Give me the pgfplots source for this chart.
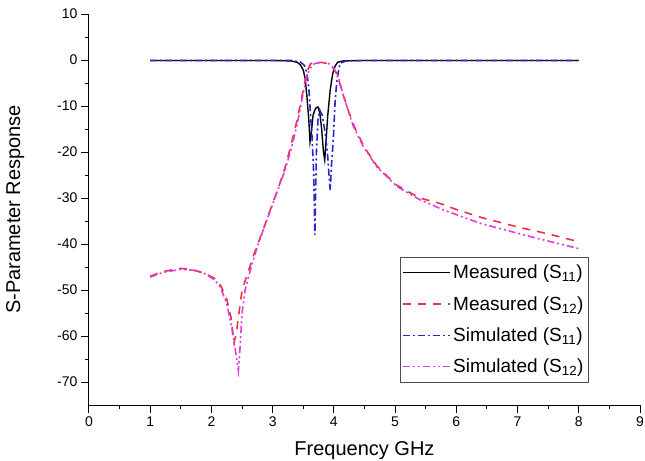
\documentclass[border=0pt]{standalone}
\usepackage{fontspec}
\setmainfont{Liberation Sans}
\usepackage{pgfplots}
\pgfplotsset{compat=1.18}

\definecolor{measred}{RGB}{236,50,64}
\definecolor{simblue}{RGB}{40,40,200}
\definecolor{simmag}{RGB}{222,60,222}

\begin{document}
\begin{tikzpicture}
\begin{axis}[
  at={(0,0)}, anchor=south west,
  scale only axis,
  width=551bp, height=391bp,
  xmin=0, xmax=9, ymin=-75, ymax=10,
  axis x line=bottom, axis y line=left,
  axis line style={-, line width=1bp},
  xtick={0,...,9}, ytick={-70,-60,...,10},
  minor x tick num=1, minor y tick num=1,
  tick align=outside,
  major tick length=8bp, minor tick length=4bp,
  every tick/.style={black, line width=1bp},
  tick label style={font=\fontsize{14bp}{16bp}\selectfont},
  /pgf/number format/assume math mode=true,
  xlabel={Frequency GHz},
  ylabel={S-Parameter Response},
  label style={font=\fontsize{20bp}{24bp}\selectfont},
  xlabel style={at={(axis description cs:0.5,-0.128)}, anchor=base},
  ylabel style={at={(axis description cs:-0.134,0.5)}, anchor=center},
  legend style={at={(0.907,0.058)}, anchor=south east, draw=black!70,
    font=\fontsize{19bp}{22bp}\selectfont,
    inner xsep=3bp, inner ysep=6bp, row sep=12bp,
    /tikz/every even column/.append style={column sep=0bp}},
  legend cell align=left,
  legend image code/.code={\draw[#1, line width=1.4bp] (0bp,0bp) -- (47bp,0bp);},
]
% Measured S11
\addplot[black, line width=1.4bp] coordinates {
(1,-0.1) (2,-0.1) (3,-0.1) (3.3,-0.2) (3.4,-0.5) (3.45,-1.0) (3.5,-2.2)
(3.53,-4) (3.56,-8) (3.59,-13) (3.61,-17.8) (3.63,-16) (3.66,-12)
(3.7,-10.5) (3.74,-10.2) (3.77,-11.5) (3.8,-15) (3.83,-20) (3.85,-21.7)
(3.87,-18) (3.9,-12) (3.94,-6.5) (3.98,-3) (4.02,-1.3) (4.06,-0.5)
(4.15,-0.2) (4.5,-0.1) (5,-0.1) (6,-0.1) (7,-0.1) (8,-0.1)
};
\addlegendentry{Measured (S\textsubscript{11})}
% Measured S12
\addplot[measred, line width=1.6bp, dash pattern=on 8bp off 7bp] coordinates {
(1,-47) (1.2,-46) (1.5,-45.3) (1.7,-45.6) (1.9,-46.4) (2.05,-47.5)
(2.15,-49) (2.25,-52) (2.32,-56) (2.37,-61.5) (2.41,-59) (2.45,-55)
(2.5,-50) (2.6,-46) (2.7,-42) (2.8,-38.5) (2.95,-33) (3.1,-27.5)
(3.2,-23.5) (3.3,-18.5) (3.4,-13) (3.5,-6.5) (3.56,-2.5) (3.62,-0.8)
(3.7,-0.5) (3.8,-0.5) (3.9,-0.8) (3.97,-1.5) (4.05,-3) (4.15,-7.5)
(4.25,-11.5) (4.35,-15) (4.5,-19) (4.7,-23) (5.0,-27) (5.4,-30)
(5.74,-31.2) (6.0,-32.5) (6.4,-34.2) (7.0,-36.3) (7.5,-37.8) (8,-39.5)
};
\addlegendentry{Measured (S\textsubscript{12})}
% Simulated S11
\addplot[simblue, line width=1.6bp, dash pattern=on 7bp off 3bp on 2bp off 3bp] coordinates {
(1,-0.1) (2,-0.1) (3,-0.1) (3.3,-0.1) (3.45,-0.4) (3.52,-1.2) (3.56,-2.9)
(3.59,-6) (3.61,-10.2) (3.64,-16) (3.67,-24.6) (3.69,-38) (3.70,-30)
(3.715,-20) (3.74,-13) (3.77,-10.9) (3.81,-12) (3.86,-16) (3.9,-21)
(3.92,-25) (3.94,-28.3) (3.96,-23) (3.99,-17.4) (4.02,-9) (4.05,-4.3)
(4.1,-0.7) (4.2,-0.2) (4.5,-0.1) (5,-0.1) (6,-0.1) (7,-0.1) (8,-0.1)
};
\addlegendentry{Simulated (S\textsubscript{11})}
% Simulated S12
\addplot[simmag, line width=1.6bp, dash pattern=on 7bp off 3bp on 2bp off 3bp on 2bp off 3bp] coordinates {
(1,-47.2) (1.2,-46.2) (1.5,-45.5) (1.7,-45.7) (1.9,-46.5) (2.05,-47.8)
(2.15,-49.5) (2.25,-53) (2.33,-58) (2.39,-63) (2.44,-67.5) (2.47,-62)
(2.5,-55) (2.55,-50) (2.65,-45) (2.75,-40.5) (2.9,-35) (3.05,-29.5)
(3.2,-24) (3.3,-19.5) (3.4,-14) (3.48,-8.5) (3.55,-4) (3.6,-2)
(3.68,-0.8) (3.8,-0.5) (3.92,-0.8) (4.0,-1.8) (4.07,-3.5) (4.16,-8)
(4.32,-14.5) (4.48,-18.8) (4.7,-23.2) (5.03,-27.5) (5.41,-30.4)
(5.79,-32.6) (6.39,-35.5) (7.21,-38.4) (8,-41)
};
\addlegendentry{Simulated (S\textsubscript{12})}
\end{axis}
\pgfresetboundingbox
\path[use as bounding box] (-89bp,-56bp) rectangle (556bp,405bp);
\end{tikzpicture}
\end{document}
